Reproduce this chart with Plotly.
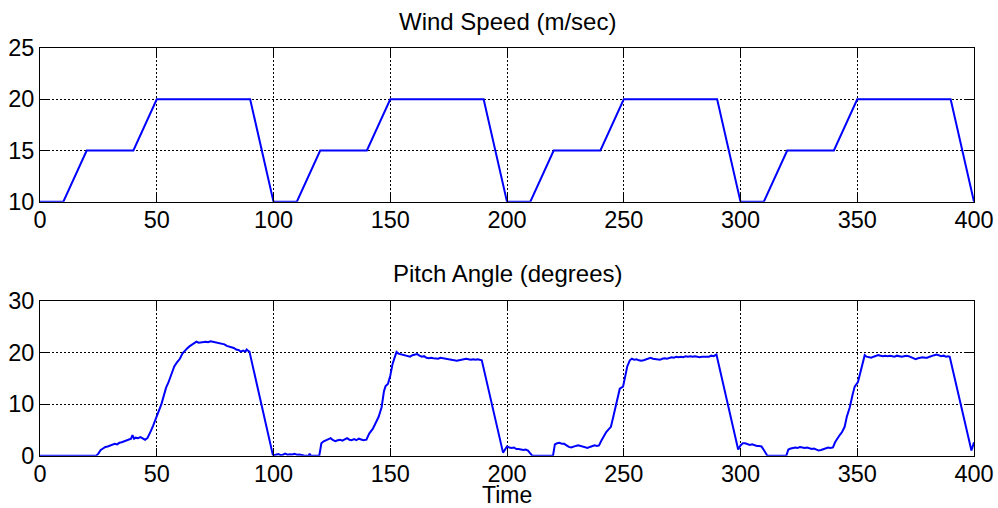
import plotly.graph_objects as go

# ---- data ----
wind_t = [0, 10, 20, 40, 50, 90, 100, 110, 120, 140, 150, 190, 200, 210, 220, 240, 250,
          290, 300, 310, 320, 340, 350, 390, 400]
wind_v = [10, 10, 15, 15, 20, 20, 10, 10, 15, 15, 20, 20, 10, 10, 15, 15, 20,
          20, 10, 10, 15, 15, 20, 20, 10]

pitch_pts = [
    (0, 0), (24, 0), (25, 0.4), (26, 1.1), (27, 1.4), (28, 1.7), (29, 1.8), (30, 2.0), (31, 2.1),
    (32, 2.3), (33, 2.2), (34, 2.5), (35, 2.6), (36, 2.8), (37, 2.9), (38, 3.2), (39, 3.3),
    (39.6, 4.0), (40.3, 3.3), (41, 3.5), (42, 3.4), (43, 3.6), (44, 3.3), (45, 3.1), (46, 3.4),
    (46.5, 3.8), (47.5, 4.8), (48.5, 5.9), (50, 7.6), (51, 8.7), (52, 10.0), (53, 11.6),
    (54, 13.2), (55, 14.2), (56, 15.3), (56.8, 16.5), (57.5, 17.3), (58.5, 18.0), (59.9, 18.8),
    (61, 19.8), (62, 20.4), (63, 20.8), (64, 21.2), (65, 21.5), (66, 21.8), (67, 22.1),
    (68, 21.9), (69, 22.0), (70, 22.0), (71, 22.1), (72, 22.0), (73, 22.2), (74, 22.1),
    (75, 22.0), (76, 22.0), (77, 21.8), (78, 21.7), (79, 21.6), (80, 21.3), (81, 21.2),
    (82, 21.0), (83, 20.9), (84, 20.6), (85, 20.5), (86, 20.2), (87, 20.4), (88, 20.2),
    (88.5, 20.6), (89, 20.4), (89.7, 20.2), (99.7, 0.2),
    (100, 0.1), (101, 0.2), (102, 0.3), (103, 0.15), (104, 0.2), (105, 0.4), (106, 0.2),
    (107, 0.3), (108, 0.25), (109, 0.35), (110, 0.2), (111, 0.25), (112, 0.1), (113, 0.05),
    (114, 0), (115, 0), (115.5, 0.4), (116, 0), (119.6, 0), (120.5, 2.4), (121.5, 2.8),
    (122.5, 3.0), (123.5, 3.1), (124.5, 3.4), (125.5, 3.0), (126.5, 2.8), (127.5, 3.0),
    (128.5, 3.1), (129.5, 2.9), (130.5, 3.2), (131.5, 3.4), (132.5, 3.1), (133.5, 3.0),
    (134.5, 3.2), (135.5, 3.0), (136.5, 3.3), (137.5, 3.2), (138.5, 3.0), (139.8, 3.1),
    (141, 4.3), (142.5, 5.2), (144, 6.5), (145, 7.5), (146.3, 9.4), (147.3, 12.5), (148, 13.5),
    (149, 13.9), (150, 15.5), (151, 17.8), (152, 19.2), (152.7, 20.1), (153.5, 19.8),
    (154.5, 19.7), (155.5, 19.6), (156.5, 19.5), (157.5, 19.3), (158.5, 19.2), (159.5, 19.5),
    (160.5, 19.6), (161.5, 19.7), (162.5, 19.4), (163.5, 19.2), (164.5, 19.3), (165.5, 19.0),
    (166.5, 18.9), (167.5, 19.0), (168.5, 18.9), (169.5, 18.9), (170.5, 18.8), (171.5, 19.0),
    (172.5, 18.9), (173.5, 18.8), (174.5, 18.8), (175.5, 18.7), (176.5, 18.6), (177.5, 18.5),
    (178.5, 18.4), (179.5, 18.5), (180.5, 18.6), (181.5, 18.7), (182.5, 18.8), (183.5, 18.7),
    (184.5, 18.6), (185.5, 18.7), (186.5, 18.6), (187.5, 18.7), (188.5, 18.6), (189.2, 18.5),
    (198.3, 0.6), (199, 1.2), (200, 1.8),
    (201, 1.6), (202, 1.5), (203, 1.6), (204, 1.3), (205, 1.3), (206, 1.2), (207, 1.1),
    (208, 1.2), (209, 1.0), (209.7, 0.6), (210.8, 0), (219.7, 0), (220.5, 2.2), (221.5, 2.4),
    (222.5, 2.5), (223.5, 2.3), (224.5, 2.3), (225.5, 2.0), (226.5, 1.7), (227.5, 1.6),
    (228.5, 1.8), (229.5, 1.9), (230.5, 2.0), (231.5, 1.9), (232.5, 1.8), (233.5, 1.6),
    (234.5, 1.5), (235.5, 1.7), (236.5, 1.9), (237.5, 2.0), (238.5, 1.9), (239.4, 2.0),
    (240.5, 3.0), (241.5, 3.8), (242.5, 4.6), (243.5, 5.1), (244.5, 5.6), (245.5, 7.5),
    (246.5, 9.5), (247.5, 11.5), (248.3, 13.0), (249.7, 13.4), (250.5, 15.5), (251.5, 17.3),
    (252.6, 18.5), (253.5, 18.8), (254.5, 18.6), (255.5, 18.7), (256.5, 18.5), (257.5, 18.4),
    (258.5, 18.5), (259.5, 18.7), (260.5, 18.9), (261.5, 19.0), (262.5, 18.8), (263.5, 18.7),
    (264.5, 18.6), (265.5, 18.6), (266.5, 18.8), (267.5, 18.9), (268.5, 18.8), (269.5, 19.0),
    (270.5, 19.1), (271.5, 19.0), (272.5, 19.2), (273.5, 19.1), (274.5, 19.2), (275.5, 19.1),
    (276.5, 19.3), (277.5, 19.2), (278.5, 19.3), (279.5, 19.2), (280.5, 19.3), (281.5, 19.2),
    (282.5, 19.1), (283.5, 19.2), (284.5, 19.2), (285.5, 19.3), (286.5, 19.2), (287.5, 19.4),
    (288.5, 19.3), (289.7, 19.6), (299, 1.2), (300, 2.0),
    (301, 2.4), (302, 2.4), (303, 2.2), (304, 2.1), (305, 2.2), (306, 2.0), (307, 1.9),
    (308, 1.9), (309, 1.8), (310, 1.1), (311, 0.3), (311.5, 0), (319.6, 0), (320.5, 1.2),
    (321.5, 1.4), (322.5, 1.5), (323.5, 1.6), (324.5, 1.5), (325.5, 1.7), (326.5, 1.6),
    (327.5, 1.5), (328.5, 1.6), (329.5, 1.4), (330.5, 1.3), (331.5, 1.4), (332.5, 1.2),
    (333.5, 1.0), (334.5, 1.1), (335.5, 1.3), (336.5, 1.5), (337.5, 1.6), (338.5, 1.5),
    (339.6, 1.6), (340.5, 2.6), (341.5, 3.4), (342.5, 4.0), (343.5, 4.6), (344.6, 5.6),
    (345.5, 7.5), (346.8, 9.4), (348, 11.8), (348.9, 13.4), (350.3, 14.3), (351.5, 16.5),
    (352.5, 18.5), (353.2, 19.5), (354, 19.2), (355, 19.1), (356, 19.0), (357, 19.2),
    (358, 19.3), (359, 19.5), (360, 19.4), (361, 19.3), (362, 19.4), (363, 19.3), (364, 19.4),
    (365, 19.3), (366, 19.2), (367, 19.4), (368, 19.3), (369, 19.2), (370, 19.3), (371, 19.4),
    (372, 19.3), (373, 19.1), (374, 19.0), (375, 18.7), (376, 18.9), (377, 19.0), (378, 19.1),
    (379, 19.0), (380, 19.0), (381, 19.2), (382, 19.4), (383, 19.5), (384, 19.6), (385, 19.4),
    (386, 19.3), (387, 19.4), (388, 19.2), (389, 19.3), (389.6, 19.2), (398.9, 1.0),
    (399.5, 2.0), (400, 2.6),
]
pitch_t = [p[0] for p in pitch_pts]
pitch_v = [p[1] for p in pitch_pts]

x_ticks = [0, 50, 100, 150, 200, 250, 300, 350, 400]
wind_ticks = [10, 15, 20, 25]
pitch_ticks = [0, 10, 20, 30]

title_top = "Wind Speed (m/sec)"
title_bottom = "Pitch Angle (degrees)"
x_label = "Time"

# ---- figure ----
W, H = 998, 508
FONT = "Liberation Sans, Arial, Helvetica, sans-serif"
FS = 23.5
LINE = dict(color="#0000ff", width=2)

fig = go.Figure()
fig.add_trace(go.Scatter(x=wind_t, y=wind_v, mode="lines", line=LINE, xaxis="x", yaxis="y",
                         showlegend=False, hoverinfo="skip"))
fig.add_trace(go.Scatter(x=pitch_t, y=pitch_v, mode="lines", line=LINE, xaxis="x2", yaxis="y2",
                         showlegend=False, hoverinfo="skip"))

xdom = [40 / W, 974 / W]
ydom_top = [(H - 201.7) / H, (H - 48) / H]
ydom_bot = [(H - 455.7) / H, (H - 301) / H]

axis_common = dict(
    showline=True, linecolor="black", linewidth=1, mirror="ticks",
    ticks="inside", ticklen=8, tickcolor="black", tickwidth=1,
    showgrid=True, gridcolor="black", gridwidth=1, griddash="2px,2px",
    zeroline=False, tickfont=dict(family=FONT, size=FS, color="black"),
    fixedrange=True, automargin=False,
)
xaxis_extra = dict(ticklabelstandoff=-3)

fig.update_layout(
    template="none",
    width=W, height=H,
    margin=dict(l=0, r=0, t=0, b=0, pad=0),
    paper_bgcolor="white", plot_bgcolor="white",
    xaxis=dict(domain=xdom, anchor="y", range=[0, 400], tickvals=x_ticks, **axis_common, **xaxis_extra),
    yaxis=dict(domain=ydom_top, anchor="x", range=[10, 25], tickvals=wind_ticks, **axis_common),
    xaxis2=dict(domain=xdom, anchor="y2", range=[0, 400], tickvals=x_ticks, **axis_common, **xaxis_extra),
    yaxis2=dict(domain=ydom_bot, anchor="x2", range=[0, 30], tickvals=pitch_ticks, **axis_common),
    annotations=[
        dict(text=title_top, x=507 / W, y=1 - 21 / H, xref="paper", yref="paper",
             xanchor="center", yanchor="middle", showarrow=False, borderpad=0,
             font=dict(family=FONT, size=24, color="black")),
        dict(text=title_bottom, x=507 / W, y=1 - 273.5 / H, xref="paper", yref="paper",
             xanchor="center", yanchor="middle", showarrow=False, borderpad=0,
             font=dict(family=FONT, size=24, color="black")),
        dict(text=x_label, x=507 / W, y=1 - 494.8 / H, xref="paper", yref="paper",
             xanchor="center", yanchor="middle", showarrow=False, borderpad=0,
             font=dict(family=FONT, size=23, color="black")),
    ],
)

fig.write_html("out.html")
